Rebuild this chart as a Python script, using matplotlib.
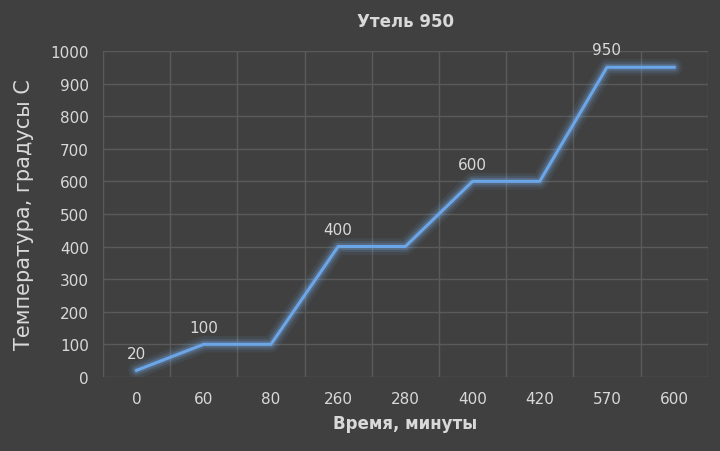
import matplotlib.pyplot as plt

times = ["0", "60", "80", "260", "280", "400", "420", "570", "600"]
temps = [20, 100, 100, 400, 400, 600, 600, 950, 950]
labeled = [0, 1, 3, 5, 7]

bg = "#404040"
txt = "#d9d9d9"
grid = "#5a5a5a"

fig = plt.figure(figsize=(7.2, 4.52), dpi=100, facecolor=bg)
ax = fig.add_axes([0.143, 0.164, 0.84, 0.721], facecolor=bg)

x = list(range(len(times)))
for lw, a in [(12, 0.08), (8, 0.12), (5, 0.2)]:
    ax.plot(x, temps, color="#7fb8ff", linewidth=lw, alpha=a, solid_capstyle="round")
ax.plot(x, temps, color="#6aa6e8", linewidth=2.2)

for i in labeled:
    ax.text(x[i], temps[i] + 30, str(temps[i]), ha="center", va="bottom",
            color=txt, fontsize=11)

ax.set_xlim(-0.5, len(times) - 0.5)
ax.set_ylim(0, 1000)
ax.set_yticks(range(0, 1001, 100))
ax.set_xticks(x)
ax.set_xticklabels(times)
ax.set_xticks([i + 0.5 for i in range(-1, len(times))], minor=True)
ax.grid(True, which="minor", axis="x", color=grid, linewidth=1)
ax.grid(True, which="major", axis="y", color=grid, linewidth=1)
ax.tick_params(which="both", length=0, colors=txt, labelsize=11, pad=10)
for s in ax.spines.values():
    s.set_visible(False)

ax.set_title("Утель 950", color=txt, fontsize=12, fontweight="bold", pad=18)
ax.set_xlabel("Время, минуты", color=txt, fontsize=12, fontweight="bold", labelpad=6)
ax.set_ylabel("Температура, градусы С", color=txt, fontsize=15, labelpad=12)

fig.savefig("out.png", dpi=100, facecolor=bg)
